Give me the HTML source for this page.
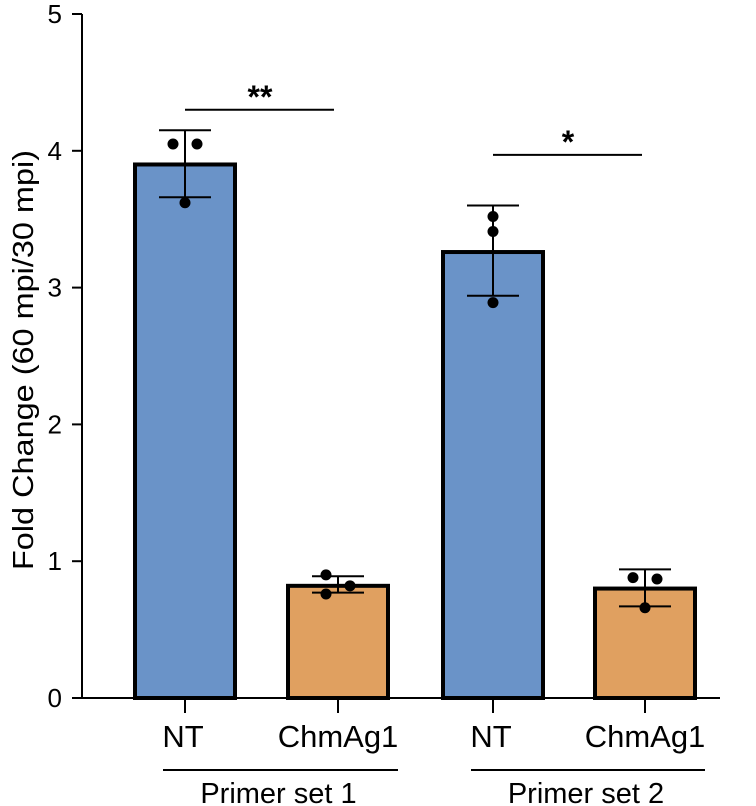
<!DOCTYPE html>
<html><head><meta charset="utf-8"><style>
html,body{margin:0;padding:0;background:#fff;}
svg{display:block;font-family:"Liberation Sans",Arial,sans-serif;}
</style></head><body>
<svg id="chart" width="756" height="806" viewBox="0 0 756 806"></svg>
<script>
const categories = ["NT","ChmAg1","NT","ChmAg1"];
const means = [3.90, 0.82, 3.26, 0.80];
const errHigh = [4.15, 0.89, 3.60, 0.94];
const errLow = [3.66, 0.77, 2.94, 0.67];
const points = [[4.05,4.05,3.62],[0.90,0.82,0.76],[3.52,3.41,2.89],[0.88,0.87,0.66]];
const pointOffsets = [[-12,12,0],[-12,12,-12],[0,0,0],[-12,12,0]];
const colors = ["#6a93c8","#e0a060","#6a93c8","#e0a060"];
const yTicks = [0,1,2,3,4,5];
const groups = ["Primer set 1","Primer set 2"];
const sigLabels = ["**","*"];
const sigHeights = [4.3, 3.97];

const NS="http://www.w3.org/2000/svg";
const svg=document.getElementById('chart');
const y0=698, yScale=136.8;
const y=v=>y0-v*yScale;
const centers=[185,338,493,645];
const x=i=>centers[i];
const barW=100;
function mk(tag,attrs,parent){const e=document.createElementNS(NS,tag);for(const k in attrs)e.setAttribute(k,attrs[k]);(parent||svg).appendChild(e);return e;}

let ax=mk('line',{x1:82,y1:14,x2:82,y2:y0,stroke:'#000','stroke-width':2});


let xa=mk('line',{x1:81,y1:y0,x2:720,y2:y0,stroke:'#000','stroke-width':2});


yTicks.forEach(t=>{
  const tk=mk('line',{x1:72,y1:y(t),x2:82,y2:y(t),stroke:'#000','stroke-width':2});
  
  
  const tl=mk('text',{x:62,y:y(t)+9,'text-anchor':'end','font-size':26});
  tl.textContent=t;
  
  
});
const yl=mk('text',{x:0,y:0,transform:'translate(33,360) rotate(-90)','text-anchor':'middle','font-size':29,textLength:420,lengthAdjust:'spacingAndGlyphs'});
yl.textContent='Fold Change  (60 mpi/30 mpi)';



categories.forEach((c,i)=>{
  const b=mk('rect',{x:x(i)-barW/2,y:y(means[i]),width:barW,height:y0-y(means[i]),fill:colors[i],stroke:'#000','stroke-width':4});
  
  
  const g=mk('g',{stroke:'#000','stroke-width':2});
  
  
  mk('line',{x1:x(i),y1:y(errHigh[i]),x2:x(i),y2:y(errLow[i])},g);
  mk('line',{x1:x(i)-26,y1:y(errHigh[i]),x2:x(i)+26,y2:y(errHigh[i])},g);
  mk('line',{x1:x(i)-26,y1:y(errLow[i]),x2:x(i)+26,y2:y(errLow[i])},g);
  points[i].forEach((p,j)=>{
    const d=mk('circle',{cx:x(i)+pointOffsets[i][j],cy:y(p),r:5.5,fill:'#000'});
    
    
  });
  const tk=mk('line',{x1:x(i),y1:y0,x2:x(i),y2:y0+15,stroke:'#000','stroke-width':2});
  
  
  const cl=mk('text',{x:x(i)+(i%2?0:-2),y:747,'text-anchor':'middle','font-size':31});
  cl.textContent=c;
  
  
});
groups.forEach((gname,k)=>{
  const a=x(2*k), b=x(2*k+1);
  const ln=mk('line',{x1:a-22,y1:770,x2:b+60,y2:770,stroke:'#000','stroke-width':2});
  
  
  const t=mk('text',{x:(a+b)/2+17,y:803,'text-anchor':'middle','font-size':29});
  t.textContent=gname;
  
  
  const sy=y(sigHeights[k]);
  const sl=mk('line',{x1:a,y1:sy,x2:a+149,y2:sy,stroke:'#000','stroke-width':2});
  
  
  const st=mk('text',{x:a+75,y:sy-2,'text-anchor':'middle','font-size':32,'font-weight':'bold'});
  st.textContent=sigLabels[k];
  
  
});
</script>
</body></html>
